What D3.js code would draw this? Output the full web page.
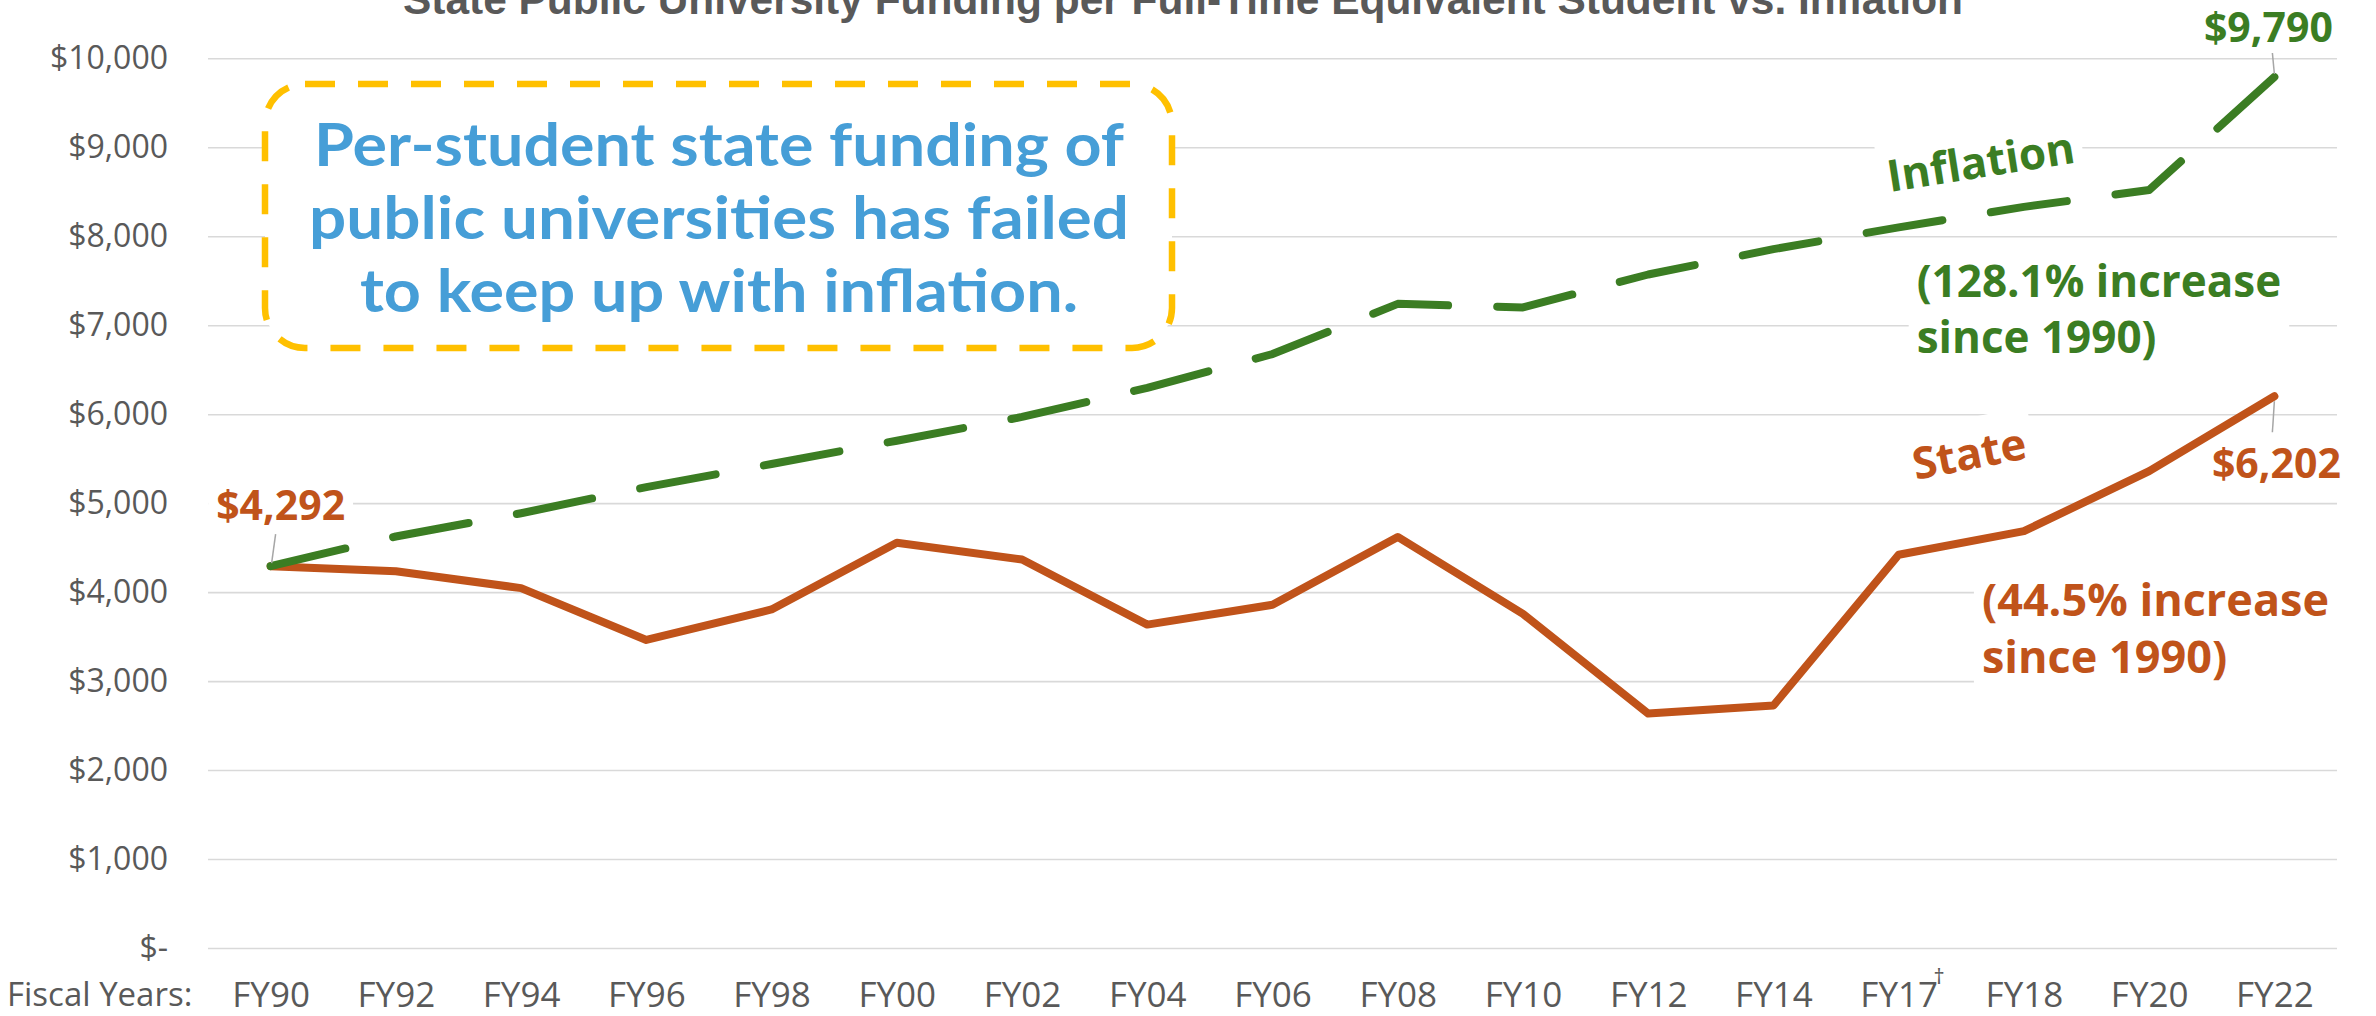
<!DOCTYPE html>
<html>
<head>
<meta charset="utf-8">
<script src="https://cdn.jsdelivr.net/npm/d3@7"></script>
<style>
  body { margin: 0; background: #fff; }
  text { font-family: "Open Sans", sans-serif; }
</style>
</head>
<body>
<div id="chart"></div>
<script>
// data
var years = ["FY90","FY92","FY94","FY96","FY98","FY00","FY02","FY04","FY06","FY08","FY10","FY12","FY14","FY17","FY18","FY20","FY22"];
var stateFunding = [4292,4235,4045,3462,3805,4555,4366,3635,3858,4620,3755,2635,2725,4420,4685,5360,6202];
var inflation = [4292,4625,4887,5180,5440,5702,5969,6296,6676,7240,7200,7570,7855,8100,8330,8520,9790];
var yTicks = [0,1000,2000,3000,4000,5000,6000,7000,8000,9000,10000];

var W = 2376, H = 1016;
var plotL = 208, plotR = 2337, plotT = 58.3, plotB = 948;
var green = "#3B7D23", orange = "#C0531A", grey = "#595959";

var svg = d3.select("#chart").append("svg").attr("width", W).attr("height", H);

var x = d3.scalePoint().domain(years).range([plotL, plotR]).padding(0.5);
var y = d3.scaleLinear().domain([0, 10000]).range([plotB, plotT]);

// title (top is cut off in the original)
svg.append("text")
  .attr("x", 403).attr("y", 14)
  .attr("textLength", 1560).attr("lengthAdjust", "spacingAndGlyphs")
  .attr("font-size", 42).attr("font-weight", 700).attr("fill", grey)
  .style("font-family", "'Liberation Sans Narrow', 'Liberation Sans', sans-serif")
  .text("State Public University Funding per Full-Time Equivalent Student vs. Inflation");

// gridlines + y labels
var gy = svg.append("g").attr("transform", "translate(" + plotL + ",0)")
  .call(d3.axisLeft(y).tickValues(yTicks).tickSize(-(plotR - plotL)).tickPadding(40)
    .tickFormat(function(d) { return d === 0 ? "$-" : "$" + d3.format(",")(d); }));
gy.select(".domain").remove();
gy.selectAll("line").attr("stroke", "#d9d9d9").attr("stroke-width", 1.6);
gy.selectAll("text").attr("fill", grey).attr("font-size", 32).style("font-family", "'Open Sans', sans-serif");

// x labels
var gx = svg.append("g").attr("transform", "translate(0," + plotB + ")")
  .call(d3.axisBottom(x).tickSize(0).tickPadding(34));
gx.select(".domain").remove();
gx.selectAll("text").attr("fill", grey).attr("font-size", 35).style("font-family", "'Open Sans', sans-serif");
gx.selectAll(".tick").filter(function(d) { return d === "FY17"; }).each(function() {
  var bb = d3.select(this).select("text").node().getBBox();
  d3.select(this).append("text").attr("x", bb.x + bb.width + 1).attr("y", bb.y + 14)
    .attr("font-size", 22).attr("fill", grey).text("\u2020");
});
svg.append("text").attr("x", 7).attr("y", 1006).attr("font-size", 33).attr("fill", grey).text("Fiscal Years:");

var bgLayer = svg.append("g");
var lineLayer = svg.append("g");
var labelLayer = svg.append("g");

// callout box
bgLayer.append("rect")
  .attr("x", 265).attr("y", 84).attr("width", 907).attr("height", 264).attr("rx", 40)
  .attr("fill", "#fff").attr("stroke", "#FFC000").attr("stroke-width", 6.5)
  .attr("stroke-dasharray", "30 23");
var boxLines = ["Per-student state funding of", "public universities has failed", "to keep up with inflation."];
var boxWidths = [810, 820, 718];
boxLines.forEach(function(s, i) {
  labelLayer.append("text")
    .attr("x", 719).attr("y", 166 + i * 73)
    .attr("text-anchor", "middle")
    .attr("textLength", boxWidths[i]).attr("lengthAdjust", "spacingAndGlyphs")
    .attr("font-size", 60).attr("font-weight", 700).attr("fill", "#469ED7")
    .style("font-family", "Lato, sans-serif")
    .text(s);
});

// lines
var line = d3.line().x(function(d) { return x(d.year); }).y(function(d) { return y(d.v); });
var stateData = years.map(function(yr, i) { return { year: yr, v: stateFunding[i] }; });
var inflData = years.map(function(yr, i) { return { year: yr, v: inflation[i] }; });

lineLayer.append("path").datum(stateData).attr("d", line)
  .attr("fill", "none").attr("stroke", orange).attr("stroke-width", 8)
  .attr("stroke-linejoin", "round").attr("stroke-linecap", "round");
var inflPath = lineLayer.append("path").datum(inflData).attr("d", line)
  .attr("fill", "none").attr("stroke", green).attr("stroke-width", 8)
  .attr("stroke-linejoin", "round").attr("stroke-linecap", "round");
// stretch the long-dash pattern a little so the line starts and ends on a dash
var L = inflPath.node().getTotalLength();
var n = Math.round((L - 75) / 123);
var k = L / (n * 123 + 75);
inflPath.attr("stroke-dasharray", (75 * k) + " " + (48 * k));

// labels with white backing
function note(tx, ty, rot, lines, color, size, gap, anchor) {
  var tr = "translate(" + tx + "," + ty + ") rotate(" + rot + ")";
  var g = labelLayer.append("g").attr("transform", tr);
  lines.forEach(function(s, i) {
    g.append("text").attr("y", i * gap).attr("text-anchor", anchor)
      .attr("fill", color).attr("font-size", size).attr("font-weight", 700).text(s);
  });
  var bb = g.node().getBBox();
  bgLayer.append("rect").attr("transform", tr)
    .attr("x", bb.x - 8).attr("y", bb.y - 4).attr("width", bb.width + 16).attr("height", bb.height + 8)
    .attr("fill", "#fff");
}
function leader(x1, y1, x2, y2) {
  labelLayer.append("line").attr("x1", x1).attr("y1", y1).attr("x2", x2).attr("y2", y2)
    .attr("stroke", "#a6a6a6").attr("stroke-width", 1.5);
}

var x0 = x(years[0]), xN = x(years[years.length - 1]);
var last = years.length - 1;

note(x0 + 10, y(stateFunding[0]) - 46, 0, ["$" + d3.format(",")(stateFunding[0])], orange, 41, 0, "middle");
leader(x0 + 1, y(stateFunding[0]) - 3, x0 + 5, y(stateFunding[0]) - 32);

note(xN - 6, y(inflation[last]) - 35, 0, ["$" + d3.format(",")(inflation[last])], green, 41, 0, "middle");
leader(xN, y(inflation[last]) - 3, xN - 2, y(inflation[last]) - 24);

note(xN + 2, y(stateFunding[last]) + 82, 0, ["$" + d3.format(",")(stateFunding[last])], orange, 41, 0, "middle");
leader(xN, y(stateFunding[last]) + 5, xN - 2, y(stateFunding[last]) + 36);

note(x("FY17") - 9, 192, -9, ["Inflation"], green, 44, 0, "start");
note(x("FY17") + 18, 297, 0, ["(128.1% increase", "since 1990)"], green, 44, 56, "start");
note(x("FY17") + 17, 480, -11, ["State"], orange, 44, 0, "start");
note(x("FY18") - 42, 616, 0, ["(44.5% increase", "since 1990)"], orange, 45, 57, "start");
</script>
</body>
</html>
